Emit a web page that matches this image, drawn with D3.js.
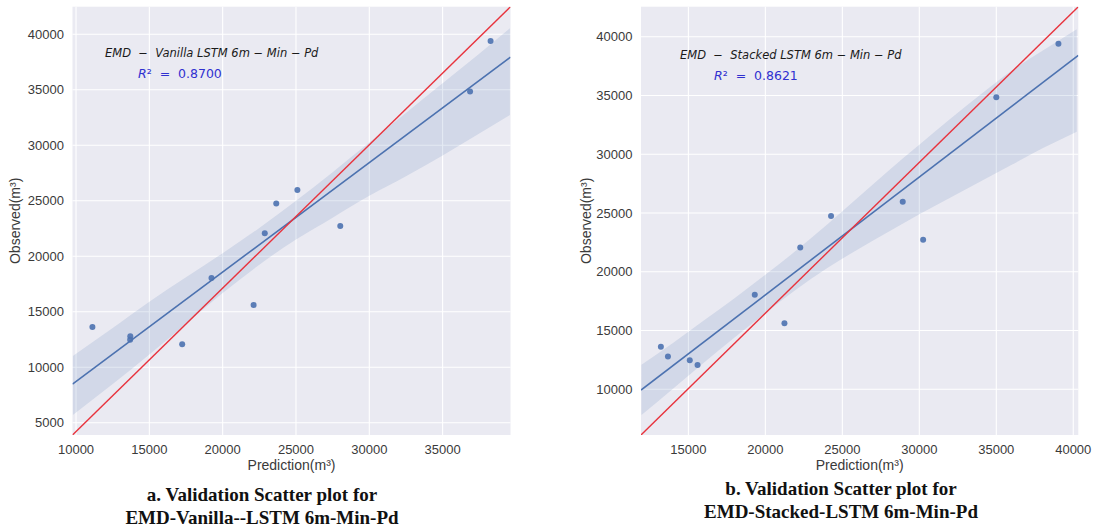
<!DOCTYPE html>
<html>
<head>
<meta charset="utf-8">
<script src="https://cdn.jsdelivr.net/npm/d3@7"></script>
<style>
  body { margin: 0; background: #ffffff; }
  svg { display: block; }
</style>
</head>
<body>
<svg id="chart" width="1096" height="527"></svg>
<script>
// Observed volumes (m³), shared by both validation panels
const observed = [39400, 34840, 25965, 24750, 22730, 22075, 18050, 15615, 13615, 12800, 12470, 12070];

// Model predictions (m³) for the same samples
const predVanilla = [38272, 36871, 25095, 23653, 28020, 22871, 19238, 22109, 11116, 13700, 13690, 17238];
const predStacked = [39036, 35000, 28923, 24267, 30249, 22268, 19313, 21240, 13214, 13673, 15091, 15595];

// Reported scores
const r2Vanilla = 0.8700;
const r2Stacked = 0.8621;

// 95% confidence band of the fitted line: [prediction, lower, upper]
const bandVanilla = [
  [9782, 5700, 11010], [12500, 8480, 13530], [15000, 11150, 15900],
  [17500, 13900, 18100], [20000, 16680, 20280], [22500, 19240, 22550],
  [25000, 21510, 25000], [27500, 23480, 27580], [30000, 25450, 30250],
  [32500, 27210, 32910], [35000, 29080, 35580], [37500, 31050, 38250],
  [39592, 32730, 40540]
];
const bandStacked = [
  [11954, 7820, 12080], [14000, 10050, 13950], [16000, 12250, 15850],
  [18000, 14400, 17750], [20000, 16500, 19750], [22000, 18500, 21800],
  [24000, 20300, 24000], [26000, 21900, 26300], [28000, 23400, 28600],
  [30000, 24900, 30800], [32000, 26300, 33000], [34000, 27700, 35100],
  [36000, 29100, 37100], [38000, 30500, 38800], [40226, 31920, 40630]
];

// Axis limits and tick values
const yLimitsVanilla = [3892, 42487];
const yLimitsStacked = [6112, 42552];
const xTicksVanilla = [10000, 15000, 20000, 25000, 30000, 35000];
const yTicksVanilla = [5000, 10000, 15000, 20000, 25000, 30000, 35000, 40000];
const xTicksStacked = [15000, 20000, 25000, 30000, 35000, 40000];
const yTicksStacked = [10000, 15000, 20000, 25000, 30000, 35000, 40000];

const titleVanilla = "EMD  \u2212  Vanilla LSTM 6m \u2212 Min \u2212 Pd";
const titleStacked = "EMD  \u2212  Stacked LSTM 6m \u2212 Min \u2212 Pd";
const captionVanilla = ["a. Validation Scatter plot for", "EMD-Vanilla--LSTM 6m-Min-Pd"];
const captionStacked = ["b. Validation Scatter plot for", "EMD-Stacked-LSTM 6m-Min-Pd"];

const svg = d3.select("#chart");
const BLUE = "#4c72b0";
const TICK_FONT = "'Liberation Sans', Arial, sans-serif";

function fit(xs, ys) {
  const mx = d3.mean(xs), my = d3.mean(ys);
  let sxy = 0, sxx = 0;
  xs.forEach((x, i) => { sxy += (x - mx) * (ys[i] - my); sxx += (x - mx) * (x - mx); });
  const slope = sxy / sxx;
  return { slope, intercept: my - slope * mx };
}

function panel(opt) {
  const [xMin, xMax] = d3.extent(opt.pred);
  const pad = (xMax - xMin) * 0.05;
  const x = d3.scaleLinear().domain([xMin - pad, xMax + pad]).range(opt.xRange);
  const y = d3.scaleLinear().domain(opt.yLimits).range(opt.yRange);
  const [x0, x1] = x.range();
  const [yb, yt] = y.range();

  const g = svg.append("g");
  const clipId = "clip-" + opt.id;
  g.append("clipPath").attr("id", clipId)
    .append("rect").attr("x", x0).attr("y", yt).attr("width", x1 - x0).attr("height", yb - yt);

  // plot background
  g.append("rect").attr("x", x0).attr("y", yt).attr("width", x1 - x0).attr("height", yb - yt)
    .attr("fill", "#eaeaf2");

  // grid
  g.append("g").selectAll("line").data(opt.xTicks).join("line")
    .attr("x1", d => x(d)).attr("x2", d => x(d)).attr("y1", yt).attr("y2", yb)
    .attr("stroke", "#ffffff").attr("stroke-width", 1.1);
  g.append("g").selectAll("line").data(opt.yTicks).join("line")
    .attr("x1", x0).attr("x2", x1).attr("y1", d => y(d)).attr("y2", d => y(d))
    .attr("stroke", "#ffffff").attr("stroke-width", 1.1);

  const inner = g.append("g").attr("clip-path", `url(#${clipId})`);

  // confidence band
  const area = d3.area().x(d => x(d[0])).y0(d => y(d[1])).y1(d => y(d[2])).curve(d3.curveMonotoneX);
  inner.append("path").datum(opt.band).attr("d", area)
    .attr("fill", BLUE).attr("fill-opacity", 0.15);

  // points
  inner.append("g").selectAll("circle").data(opt.pred.map((p, i) => [p, opt.obs[i]])).join("circle")
    .attr("cx", d => x(d[0])).attr("cy", d => y(d[1])).attr("r", 3)
    .attr("fill", BLUE).attr("fill-opacity", 0.9);

  // fitted regression line across the full axis
  const f = fit(opt.pred, opt.obs);
  const xd = x.domain();
  inner.append("line")
    .attr("x1", x(xd[0])).attr("y1", y(f.slope * xd[0] + f.intercept))
    .attr("x2", x(xd[1])).attr("y2", y(f.slope * xd[1] + f.intercept))
    .attr("stroke", BLUE).attr("stroke-width", 1.6);

  // reference diagonal from corner to corner of the axes
  const yd = y.domain();
  inner.append("line")
    .attr("x1", x(xd[0])).attr("y1", y(yd[0]))
    .attr("x2", x(xd[1])).attr("y2", y(yd[1]))
    .attr("stroke", "#e8333d").attr("stroke-width", 1.4);

  // tick labels
  g.append("g").selectAll("text").data(opt.xTicks).join("text")
    .attr("x", d => x(d)).attr("y", yb + 19)
    .attr("text-anchor", "middle").attr("font-family", TICK_FONT).attr("font-size", 13)
    .attr("fill", "#3a3a3a").text(d => d);
  g.append("g").selectAll("text").data(opt.yTicks).join("text")
    .attr("x", x0 - 8.5).attr("y", d => y(d)).attr("dy", "0.35em")
    .attr("text-anchor", "end").attr("font-family", TICK_FONT).attr("font-size", 13)
    .attr("fill", "#3a3a3a").text(d => d);

  // axis labels
  g.append("text").attr("x", (x0 + x1) / 2).attr("y", yb + 35)
    .attr("text-anchor", "middle").attr("font-family", TICK_FONT).attr("font-size", 14)
    .attr("fill", "#3a3a3a").text("Prediction(m\u00b3)");
  g.append("text")
    .attr("transform", `translate(${opt.yLabelX},${(yt + yb) / 2}) rotate(-90)`)
    .attr("text-anchor", "middle").attr("font-family", TICK_FONT).attr("font-size", 14)
    .attr("fill", "#3a3a3a").text("Observed(m\u00b3)");

  // annotation
  g.append("text").attr("x", opt.noteX).attr("y", opt.noteY)
    .attr("font-family", "'DejaVu Sans', sans-serif").attr("font-size", 11.5)
    .attr("font-style", "italic").attr("fill", "#1a1a1a")
    .style("white-space", "pre").text(opt.title);
  const r2 = g.append("text").attr("x", opt.r2X).attr("y", opt.noteY + 21)
    .attr("font-family", "'DejaVu Sans', sans-serif").attr("font-size", 12.5)
    .attr("fill", "#3030d0").style("white-space", "pre");
  r2.append("tspan").attr("font-style", "italic").text("R");
  r2.append("tspan").text("\u00b2  =  " + opt.r2.toFixed(4));

  // caption
  g.append("g").selectAll("text").data(opt.caption).join("text")
    .attr("x", opt.captionX).attr("y", (d, i) => opt.captionY + i * 22.5)
    .attr("text-anchor", "middle").attr("font-family", "'Liberation Serif', 'Times New Roman', serif")
    .attr("font-weight", "bold").attr("font-size", 19).attr("fill", "#111111")
    .text(d => d);
}

panel({
  id: "vanilla", obs: observed, pred: predVanilla, band: bandVanilla,
  yLimits: yLimitsVanilla, xTicks: xTicksVanilla, yTicks: yTicksVanilla,
  xRange: [72.5, 510.5], yRange: [435, 6.7], yLabelX: 20,
  title: titleVanilla, r2: r2Vanilla, noteX: 105, noteY: 57, r2X: 138,
  caption: captionVanilla, captionX: 262, captionY: 501
});

panel({
  id: "stacked", obs: observed, pred: predStacked, band: bandStacked,
  yLimits: yLimitsStacked, xTicks: xTicksStacked, yTicks: yTicksStacked,
  xRange: [641, 1078.3], yRange: [435, 6.7], yLabelX: 591,
  title: titleStacked, r2: r2Stacked, noteX: 680, noteY: 58.5, r2X: 714,
  caption: captionStacked, captionX: 841, captionY: 495
});
</script>
</body>
</html>
